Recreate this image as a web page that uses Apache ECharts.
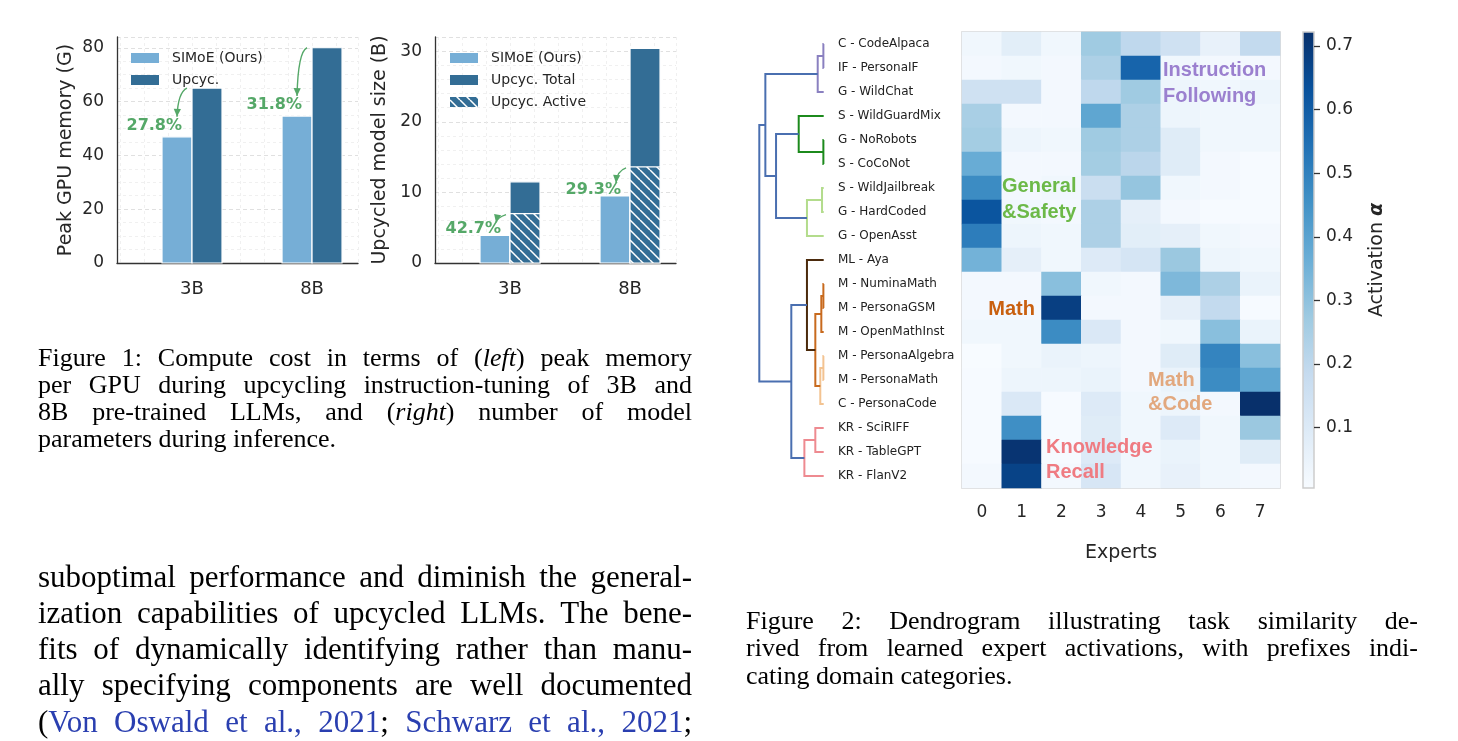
<!DOCTYPE html>
<html><head><meta charset="utf-8">
<script src="https://cdn.jsdelivr.net/npm/echarts@6/dist/echarts.min.js"></script>
<style>html,body{margin:0;padding:0;background:#fff}#c{width:1458px;height:741px}</style>
</head><body><div id="c"></div>
<script>
// ---------------- data ----------------
const modelSizes = ['3B', '8B'];
const memSIMoE = [46.9, 54.6];
const memUpcyc = [65.0, 80.0];
const memSaving = ['27.8%', '31.8%'];
const sizeSIMoE = [3.9, 9.5];
const sizeUpcycTotal = [11.5, 30.4];
const sizeUpcycActive = [7.0, 13.6];
const sizeSaving = ['42.7%', '29.3%'];
const memTicks = [0, 20, 40, 60, 80];
const sizeTicks = [0, 10, 20, 30];

const tasks = ['C - CodeAlpaca', 'IF - PersonaIF', 'G - WildChat', 'S - WildGuardMix', 'G - NoRobots',
  'S - CoCoNot', 'S - WildJailbreak', 'G - HardCoded', 'G - OpenAsst', 'ML - Aya', 'M - NuminaMath',
  'M - PersonaGSM', 'M - OpenMathInst', 'M - PersonaAlgebra', 'M - PersonaMath', 'C - PersonaCode',
  'KR - SciRIFF', 'KR - TableGPT', 'KR - FlanV2'];
const experts = ['0', '1', '2', '3', '4', '5', '6', '7'];
const activation = [
  [0.03, 0.08, 0.03, 0.27, 0.20, 0.15, 0.06, 0.19],
  [0.02, 0.03, 0.02, 0.24, 0.58, 0.03, 0.02, 0.02],
  [0.15, 0.15, 0.02, 0.20, 0.27, 0.04, 0.03, 0.04],
  [0.25, 0.02, 0.02, 0.39, 0.24, 0.04, 0.03, 0.03],
  [0.26, 0.04, 0.03, 0.27, 0.24, 0.09, 0.03, 0.03],
  [0.37, 0.02, 0.02, 0.26, 0.21, 0.09, 0.02, 0.01],
  [0.47, 0.02, 0.03, 0.17, 0.29, 0.03, 0.02, 0.01],
  [0.62, 0.03, 0.02, 0.24, 0.07, 0.02, 0.01, 0.01],
  [0.51, 0.04, 0.03, 0.24, 0.08, 0.07, 0.03, 0.02],
  [0.35, 0.07, 0.03, 0.10, 0.13, 0.28, 0.04, 0.03],
  [0.02, 0.02, 0.31, 0.03, 0.02, 0.33, 0.24, 0.05],
  [0.02, 0.02, 0.68, 0.02, 0.02, 0.07, 0.19, 0.01],
  [0.03, 0.03, 0.47, 0.11, 0.02, 0.03, 0.31, 0.05],
  [0.005, 0.03, 0.05, 0.04, 0.02, 0.09, 0.49, 0.31],
  [0.01, 0.04, 0.04, 0.05, 0.02, 0.05, 0.47, 0.39],
  [0.01, 0.11, 0.01, 0.10, 0.03, 0.04, 0.02, 0.722],
  [0.01, 0.46, 0.01, 0.09, 0.03, 0.10, 0.03, 0.28],
  [0.01, 0.71, 0.01, 0.10, 0.03, 0.05, 0.03, 0.09],
  [0.02, 0.67, 0.02, 0.12, 0.03, 0.06, 0.03, 0.02]
];
// dendrogram linkage: [nodeA, nodeB, distance]; leaves are 0..18 (row order), merges get ids 19..
const linkage = [
  [0, 1, 0.005], [19, 2, 0.093], [4, 5, 0.005], [3, 21, 0.388], [6, 7, 0.026], [23, 8, 0.26],
  [22, 24, 0.74], [20, 25, 0.906], [10, 11, 0.005], [27, 12, 0.037], [13, 14, 0.005], [29, 15, 0.053],
  [28, 30, 0.13], [9, 31, 0.26], [16, 17, 0.13], [33, 18, 0.30], [32, 34, 0.503], [26, 35, 1.0]
];
const linkGroup = ['IF', 'IF', 'S', 'S', 'G', 'G', 'root', 'root', 'M', 'M', 'MC', 'MC', 'M', 'ML', 'KR', 'KR', 'root', 'root'];
const colorbarTicks = [0.1, 0.2, 0.3, 0.4, 0.5, 0.6, 0.7];

// ---------------- text ----------------
const fig1Caption = [
  'Figure 1: Compute cost in terms of (*left*) peak memory',
  'per GPU during upcycling instruction-tuning of 3B and',
  '8B pre-trained LLMs, and (*right*) number of model',
  'parameters during inference.'
];
const fig2Caption = [
  'Figure 2: Dendrogram illustrating task similarity de-',
  'rived from learned expert activations, with prefixes indi-',
  'cating domain categories.'
];
const bodyText = [
  'suboptimal performance and diminish the general-',
  'ization capabilities of upcycled LLMs. The bene-',
  'fits of dynamically identifying rather than manu-',
  'ally specifying components are well documented',
  '(~Von~ ~Oswald~ ~et~ ~al.,~ ~2021~; ~Schwarz~ ~et~ ~al.,~ ~2021~;'
];

// ---------------- style ----------------
const SANS = 'DejaVu Sans';
const SERIF = '"Liberation Serif"';
const TXT = '#262626';
const LIGHT = '#76aed6';
const DARK = '#336d95';
const GREEN = '#55a868';
const LINK = '#2a3fb0';
const BLUES = ['#f7fbff', '#deebf7', '#c6dbef', '#9ecae1', '#6baed6', '#4292c6', '#2171b5', '#08519c', '#08306b'];
const groupColor = { IF: '#8a80c0', S: '#1c8a1c', G: '#b3dc8c', root: '#4a6fb0', M: '#c86a1e', MC: '#f3c391', ML: '#4b2a0c', KR: '#ee8a90' };

function hatchCanvas(color) {
  const c = document.createElement('canvas');
  c.width = c.height = 10;
  const g = c.getContext('2d');
  g.fillStyle = color; g.fillRect(0, 0, 10, 10);
  g.strokeStyle = '#ffffff'; g.lineWidth = 1.5;
  g.beginPath();
  for (const k of [-10, 0, 10]) { g.moveTo(k, 0); g.lineTo(k + 10, 10); }
  g.stroke();
  return c;
}
const HATCH = { image: hatchCanvas(DARK), repeat: 'repeat' };

const BW = 0.25;
function barItem(offset, fill) {
  return function (params, api) {
    const x = api.value(0) + offset, y = api.value(1);
    const a = api.coord([x - BW / 2, y]);
    const b = api.coord([x + BW / 2, 0]);
    return { type: 'rect', shape: { x: a[0], y: a[1], width: b[0] - a[0], height: b[1] - a[1] },
      style: { fill: fill, stroke: '#fff', lineWidth: 1.2 } };
  };
}

// dendrogram geometry from linkage
const nodeY = tasks.map((_, i) => i);
const nodeD = tasks.map(() => 0);
const dendroLinks = [];
linkage.forEach(([a, b, d], k) => {
  dendroLinks.push([nodeY[a], nodeY[b], nodeD[a], nodeD[b], d, k]);
  nodeY.push((nodeY[a] + nodeY[b]) / 2);
  nodeD.push(d);
});

const heatData = [];
activation.forEach((row, r) => row.forEach((v, c) => heatData.push([c, r, v])));
const flat = activation.flat();
const vMin = Math.min(...flat), vMax = Math.max(...flat);

const axisLineStyle = { color: '#333', width: 1.3 };
const gridDash = { type: [4, 3], color: '#dcdcdc', width: 0.9 };
const gridDashMinor = { type: [3, 3], color: '#ececec', width: 0.8 };

const chart = echarts.init(document.getElementById('c'), null, { renderer: 'canvas', width: 1458, height: 741 });

function barXAxis(gi) {
  return { gridIndex: gi, type: 'value', min: -0.625, max: 1.383, splitNumber: 10,
    axisLine: { show: true, onZero: false, lineStyle: axisLineStyle }, axisTick: { show: false },
    axisLabel: { customValues: [0, 1], formatter: v => modelSizes[Math.round(v)], fontSize: 18, color: TXT, margin: 17 },
    splitLine: { show: true, lineStyle: gridDashMinor } };
}
function barYAxis(gi, max, interval, ticks, minorN, name, gap) {
  return { gridIndex: gi, type: 'value', min: 0, max: max, interval: interval,
    axisLine: { show: true, onZero: false, lineStyle: axisLineStyle }, axisTick: { show: false },
    axisLabel: { fontSize: 17, color: TXT, margin: 13, customValues: ticks },
    splitLine: { show: true, lineStyle: gridDash },
    minorTick: { show: false, splitNumber: minorN }, minorSplitLine: { show: true, lineStyle: gridDashMinor },
    name: name, nameLocation: 'middle', nameGap: gap, nameTextStyle: { fontSize: 19, color: TXT } };
}

const option = {
  backgroundColor: '#fff',
  animation: false,
  textStyle: { fontFamily: SANS, color: TXT },
  grid: [
    { left: 117, top: 37, width: 241, height: 226 },
    { left: 435, top: 37, width: 241, height: 226 },
    { left: 759.3, top: 32, width: 64.4, height: 456 },
    { left: 962, top: 32, width: 318, height: 456, show: true, borderColor: '#cfcfcf', borderWidth: 1.5, backgroundColor: 'transparent' },
    { left: 1303, top: 32, width: 11, height: 456 }
  ],
  xAxis: [
    barXAxis(0),
    barXAxis(1),
    { gridIndex: 2, type: 'value', min: 0, max: 1, inverse: true, show: false },
    { gridIndex: 3, type: 'category', data: experts, axisLine: { show: false }, axisTick: { show: false },
      axisLabel: { fontSize: 17, color: TXT, margin: 16 }, splitLine: { show: false },
      name: 'Experts', nameLocation: 'middle', nameGap: 56, nameTextStyle: { fontSize: 19, color: TXT } },
    { gridIndex: 4, type: 'value', min: 0, max: 1, show: false }
  ],
  yAxis: [
    barYAxis(0, 84, 20, memTicks, 4, 'Peak GPU memory (G)', 41),
    barYAxis(1, 32, 10, sizeTicks, 5, 'Upcycled model size (B)', 45),
    { gridIndex: 2, type: 'value', min: -0.5, max: 18.5, inverse: true, show: false },
    { gridIndex: 3, type: 'category', data: tasks, inverse: true, axisLine: { show: false }, axisTick: { show: false },
      axisLabel: { align: 'left', margin: 124, fontSize: 12, color: '#222' }, splitLine: { show: false } },
    { gridIndex: 4, type: 'value', min: vMin, max: vMax, position: 'right', z: 5,
      axisLine: { show: true, onZero: false, lineStyle: { color: 'rgba(0,0,0,0)' } },
      axisTick: { show: true, inside: false, customValues: colorbarTicks, length: 6, lineStyle: { color: '#333', width: 1.3 } },
      axisLabel: { customValues: colorbarTicks, formatter: v => v.toFixed(1), fontSize: 17, color: TXT, margin: 12 },
      splitLine: { show: false },
      name: 'Activation {a|α}', nameLocation: 'middle', nameGap: 54,
      nameTextStyle: { fontSize: 19, color: TXT, rich: { a: { fontSize: 19, fontWeight: 'bold', fontStyle: 'italic', color: TXT } } } }
  ],
  visualMap: [{ type: 'continuous', show: false, seriesIndex: 6, dimension: 2, min: vMin, max: vMax, inRange: { color: BLUES } }],
  series: [
    { type: 'custom', xAxisIndex: 0, yAxisIndex: 0, encode: { x: 0, y: 1 }, clip: false,
      data: modelSizes.map((_, i) => [i, memSIMoE[i]]), renderItem: barItem(-BW / 2, LIGHT) },
    { type: 'custom', xAxisIndex: 0, yAxisIndex: 0, encode: { x: 0, y: 1 }, clip: false,
      data: modelSizes.map((_, i) => [i, memUpcyc[i]]), renderItem: barItem(BW / 2, DARK) },
    { type: 'custom', xAxisIndex: 1, yAxisIndex: 1, encode: { x: 0, y: 1 }, clip: false,
      data: modelSizes.map((_, i) => [i, sizeSIMoE[i]]), renderItem: barItem(-BW / 2, LIGHT) },
    { type: 'custom', xAxisIndex: 1, yAxisIndex: 1, encode: { x: 0, y: 1 }, clip: false,
      data: modelSizes.map((_, i) => [i, sizeUpcycTotal[i]]), renderItem: barItem(BW / 2, DARK) },
    { type: 'custom', xAxisIndex: 1, yAxisIndex: 1, encode: { x: 0, y: 1 }, clip: false,
      data: modelSizes.map((_, i) => [i, sizeUpcycActive[i]]), renderItem: barItem(BW / 2, HATCH) },
    { type: 'custom', xAxisIndex: 2, yAxisIndex: 2, encode: { x: [2, 3, 4], y: [0, 1] }, clip: false,
      data: dendroLinks,
      renderItem: function (params, api) {
        const ya = api.value(0), yb = api.value(1), da = api.value(2), db = api.value(3), dm = api.value(4), k = api.value(5);
        const pts = [api.coord([da, ya]), api.coord([dm, ya]), api.coord([dm, yb]), api.coord([db, yb])];
        return { type: 'polyline', shape: { points: pts }, style: { stroke: groupColor[linkGroup[k]], lineWidth: 2, fill: null } };
      } },
    { type: 'heatmap', xAxisIndex: 3, yAxisIndex: 3, data: heatData, itemStyle: { borderWidth: 0 }, emphasis: { disabled: true } },
    { type: 'custom', xAxisIndex: 4, yAxisIndex: 4, encode: { x: 0, y: [1, 2] }, clip: false, z: 1,
      data: [[0, vMin, vMax]],
      renderItem: function (params, api) {
        const a = api.coord([0, api.value(2)]);
        const b = api.coord([1, api.value(1)]);
        const stops = BLUES.slice().reverse().map((c, i) => ({ offset: i / (BLUES.length - 1), color: c }));
        return { type: 'rect', shape: { x: a[0], y: a[1], width: b[0] - a[0], height: b[1] - a[1] },
          style: { fill: new echarts.graphic.LinearGradient(0, 0, 0, 1, stops), stroke: '#cdcdcd', lineWidth: 1.5 } };
      } }
  ]
};
chart.setOption(option);

// ---------------- graphics (legends, annotations, text) ----------------
const G = [];
function txt(x, y, text, opt) {
  G.push({ type: 'text', x: x, y: y, silent: true, z: 10,
    style: Object.assign({ text: text, fill: TXT, fontFamily: SANS, fontSize: 14, align: 'left', verticalAlign: 'middle',
      textAlign: 'left', textVerticalAlign: 'middle' }, opt || {}) });
}
function legendItem(x, y, fill, label) {
  G.push({ type: 'rect', silent: true, z: 10, shape: { x: x, y: y - 5, width: 28, height: 10 }, style: { fill: fill } });
  txt(x + 41, y, label, { fontSize: 14 });
}
legendItem(131, 58, LIGHT, 'SIMoE (Ours)');
legendItem(131, 80, DARK, 'Upcyc.');
legendItem(450, 58, LIGHT, 'SIMoE (Ours)');
legendItem(450, 80, DARK, 'Upcyc. Total');
legendItem(450, 102, HATCH, 'Upcyc. Active');

function arrow(s, e, cp) {
  G.push({ type: 'bezierCurve', silent: true, z: 10,
    shape: { x1: s[0], y1: s[1], x2: e[0], y2: e[1], cpx1: cp[0], cpy1: cp[1] },
    style: { stroke: GREEN, lineWidth: 1.4, fill: null } });
  let dx = e[0] - cp[0], dy = e[1] - cp[1];
  const L = Math.hypot(dx, dy) || 1; dx /= L; dy /= L;
  const len = 8, hw = 3.6;
  const bx = e[0] - dx * len, by = e[1] - dy * len;
  G.push({ type: 'polygon', silent: true, z: 11,
    shape: { points: [[e[0], e[1]], [bx - dy * hw, by + dx * hw], [bx + dy * hw, by - dx * hw]] },
    style: { fill: GREEN } });
}
modelSizes.forEach((_, i) => {
  const sTop = chart.convertToPixel({ gridIndex: 0 }, [i - BW / 2, memSIMoE[i]]);
  const uTL = chart.convertToPixel({ gridIndex: 0 }, [i, memUpcyc[i]]);
  const st = [uTL[0] - 5, uTL[1]], en = [sTop[0], sTop[1] - 20];
  arrow(st, en, [en[0] + 1, st[1] + 4]);
  txt(sTop[0] + 5, sTop[1] - 11, memSaving[i], { fill: GREEN, fontWeight: 'bold', fontSize: 16, align: 'right', textAlign: 'right' });
  const sTop2 = chart.convertToPixel({ gridIndex: 1 }, [i - BW / 2, sizeSIMoE[i]]);
  const aTL = chart.convertToPixel({ gridIndex: 1 }, [i, sizeUpcycActive[i]]);
  const st2 = [aTL[0] - 4, aTL[1] + 1], en2 = [sTop2[0] + 1, sTop2[1] - 13];
  arrow(st2, en2, [en2[0] + 1, st2[1] + 3]);
  txt(sTop2[0] + 6, sTop2[1] - 6.5, sizeSaving[i], { fill: GREEN, fontWeight: 'bold', fontSize: 16, align: 'right', textAlign: 'right' });
});

// heatmap group annotations
const annStyle = { fontFamily: '"Liberation Sans"', fontWeight: 'bold', fontSize: 20 };
txt(1163, 70, 'Instruction', Object.assign({ fill: '#9b80cf' }, annStyle));
txt(1163, 96, 'Following', Object.assign({ fill: '#9b80cf' }, annStyle));
txt(1002, 186, 'General', Object.assign({ fill: '#6cb948' }, annStyle));
txt(1002, 212, '&Safety', Object.assign({ fill: '#6cb948' }, annStyle));
txt(1035, 309, 'Math', Object.assign({ fill: '#c9600f', align: 'right', textAlign: 'right' }, annStyle));
txt(1148, 380, 'Math', Object.assign({ fill: '#e2a87e' }, annStyle));
txt(1148, 404, '&Code', Object.assign({ fill: '#e2a87e' }, annStyle));
txt(1046, 447, 'Knowledge', Object.assign({ fill: '#ef7b82' }, annStyle));
txt(1046, 472, 'Recall', Object.assign({ fill: '#ef7b82' }, annStyle));

// justified paragraph text
const mctx = document.createElement('canvas').getContext('2d');
function textBlock(lines, x0, width, ys, size, justifyLast) {
  lines.forEach((line, li) => {
    const words = line.split(' ').map(w => w.split(/(\*[^*]*\*|~[^~]*~)/).filter(s => s).map(s => {
      if (s[0] === '*') return { t: s.slice(1, -1), it: true, blue: false };
      if (s[0] === '~') return { t: s.slice(1, -1), it: false, blue: true };
      return { t: s, it: false, blue: false };
    }));
    const font = s => (s.it ? 'italic ' : '') + size + 'px ' + SERIF;
    let total = 0;
    words.forEach(segs => segs.forEach(s => { mctx.font = font(s); s.w = mctx.measureText(s.t).width; total += s.w; }));
    mctx.font = size + 'px ' + SERIF;
    const sp0 = mctx.measureText(' ').width;
    const justify = (li < lines.length - 1 || justifyLast) && words.length > 1;
    const sp = justify ? (width - total) / (words.length - 1) : sp0;
    let x = x0;
    words.forEach(segs => {
      segs.forEach(s => {
        G.push({ type: 'text', x: x, y: ys[li], silent: true, z: 10,
          style: { text: s.t, font: font(s), fill: s.blue ? LINK : '#000', align: 'left', textAlign: 'left',
            verticalAlign: 'middle', textVerticalAlign: 'middle' } });
        x += s.w;
      });
      x += sp;
    });
  });
}
textBlock(fig1Caption, 38, 654, [359, 386, 413, 440], 26, false);
textBlock(fig2Caption, 746, 672, [622, 649.5, 677], 26, false);
textBlock(bodyText, 38, 654, [579, 615, 651, 687, 724], 31, true);

chart.setOption({ graphic: { elements: G } });
</script></body></html>
